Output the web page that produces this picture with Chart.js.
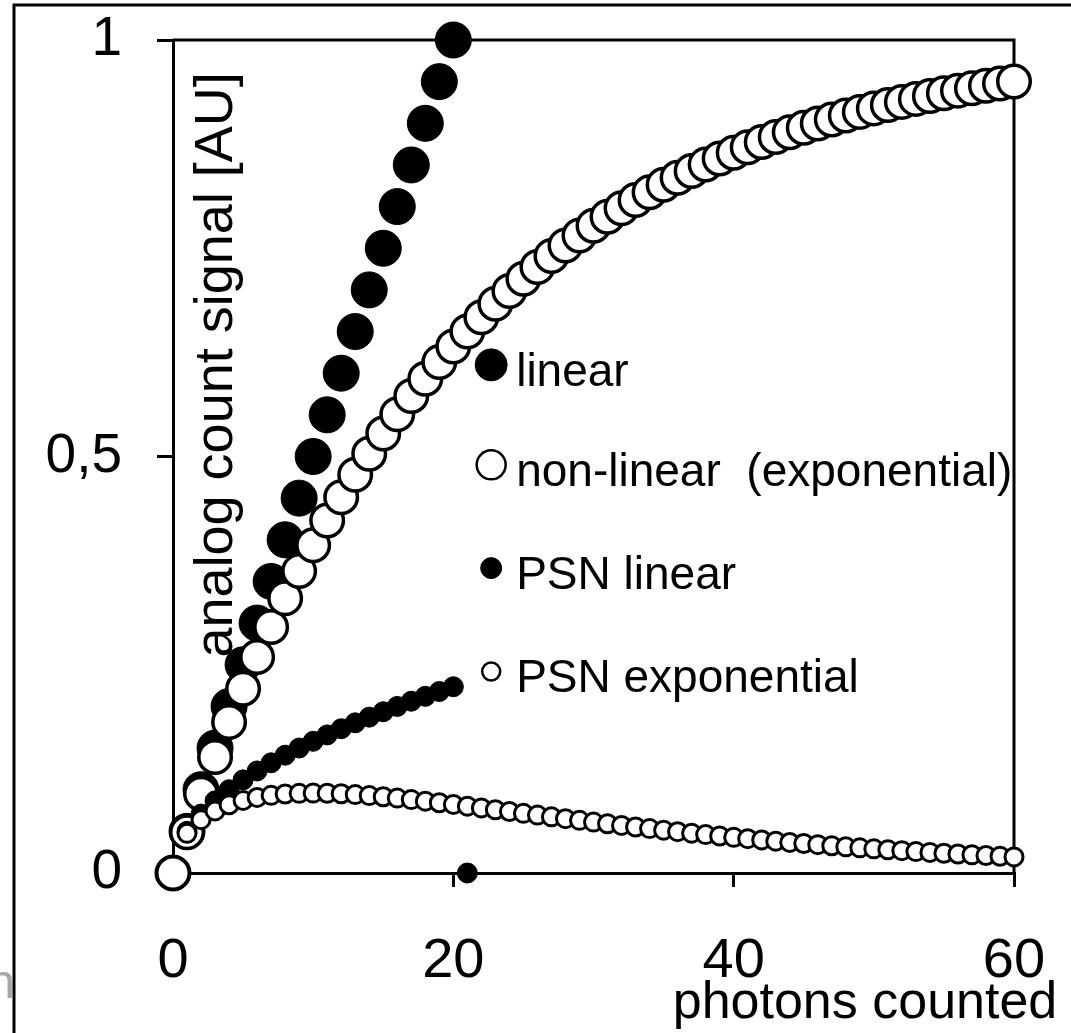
<!DOCTYPE html>
<html>
<head>
<meta charset="utf-8">
<title>analog count signal</title>
<script src="https://cdn.jsdelivr.net/npm/chart.js@4.4.1/dist/chart.umd.min.js"></script>
<style>
  html, body { margin: 0; padding: 0; background: #ffffff; }
  #wrap { width: 1071px; height: 1033px; }
</style>
</head>
<body>
<div id="wrap"><canvas id="signalChart" width="1071" height="1033"></canvas></div>
<script>
// Data
const photons = [0, 1, 2, 3, 4, 5, 6, 7, 8, 9, 10, 11, 12, 13, 14, 15, 16, 17, 18, 19, 20,
  21, 22, 23, 24, 25, 26, 27, 28, 29, 30, 31, 32, 33, 34, 35, 36, 37, 38, 39, 40,
  41, 42, 43, 44, 45, 46, 47, 48, 49, 50, 51, 52, 53, 54, 55, 56, 57, 58, 59, 60];

const linearSignal = [0, 0.05, 0.1, 0.15, 0.2, 0.25, 0.3, 0.35, 0.4, 0.45, 0.5,
  0.55, 0.6, 0.65, 0.7, 0.75, 0.8, 0.85, 0.9, 0.95, 1];

const expSignal = [0, 0.0488, 0.0952, 0.1393, 0.1813, 0.2212, 0.2592, 0.2953, 0.3297, 0.3624, 0.3935,
  0.4231, 0.4512, 0.478, 0.5034, 0.5276, 0.5507, 0.5726, 0.5934, 0.6133, 0.6321,
  0.6501, 0.6671, 0.6834, 0.6988, 0.7135, 0.7275, 0.7408, 0.7534, 0.7654, 0.7769,
  0.7878, 0.7981, 0.808, 0.8173, 0.8262, 0.8347, 0.8428, 0.8504, 0.8577, 0.8647,
  0.8713, 0.8775, 0.8835, 0.8892, 0.8946, 0.8997, 0.9046, 0.9093, 0.9137, 0.9179,
  0.9219, 0.9257, 0.9293, 0.9328, 0.9361, 0.9392, 0.9422, 0.945, 0.9477, 0.9502];

// no point at 0 photons for the PSN series
const psnLinear = [null, 0.05, 0.0707, 0.0866, 0.1, 0.1118, 0.1225, 0.1323, 0.1414, 0.15, 0.1581,
  0.1658, 0.1732, 0.1803, 0.1871, 0.1936, 0.2, 0.2062, 0.2121, 0.2179, 0.2236, 0];

const psnExp = [null, 0.0476, 0.064, 0.0745, 0.0819, 0.0871, 0.0907, 0.0932, 0.0948, 0.0956, 0.0959,
  0.0957, 0.0951, 0.0941, 0.0929, 0.0915, 0.0899, 0.0881, 0.0862, 0.0843, 0.0823,
  0.0802, 0.0781, 0.0759, 0.0738, 0.0716, 0.0695, 0.0674, 0.0652, 0.0632, 0.0611,
  0.0591, 0.0571, 0.0552, 0.0533, 0.0514, 0.0496, 0.0478, 0.0461, 0.0444, 0.0428,
  0.0412, 0.0397, 0.0382, 0.0367, 0.0354, 0.034, 0.0327, 0.0314, 0.0302, 0.029,
  0.0279, 0.0268, 0.0257, 0.0247, 0.0237, 0.0228, 0.0218, 0.021, 0.0201, 0.0193];

const xTicks = [0, 20, 40, 60];
const yTicks = [0, 0.5, 1];
const yTickLabels = ['0', '0,5', '1'];
const legendLabels = ['linear', 'non-linear  (exponential)', 'PSN linear', 'PSN exponential'];

const FONT = '"Liberation Sans", Arial, sans-serif';

function toPoints(values) {
  return values.map((v, i) => ({ x: photons[i], y: v }));
}

// legend markers, same order as legendLabels
const legendMarks = [
  { r: 16, fill: '#000', border: 1 },
  { r: 14.5, fill: '#fff', border: 2.5 },
  { r: 10.5, fill: '#000', border: 1 },
  { r: 9, fill: '#fff', border: 2.5 }
];

// frame, plot box, titles and legend
const decorations = {
  id: 'decorations',
  beforeDraw(chart) {
    const ctx = chart.ctx;
    ctx.save();
    ctx.fillStyle = '#fff';
    ctx.fillRect(0, 0, chart.width, chart.height);
    ctx.strokeStyle = '#000';
    ctx.lineWidth = 3;
    ctx.beginPath();
    ctx.moveTo(14, chart.height);
    ctx.lineTo(14, 5);
    ctx.lineTo(chart.width, 5);
    ctx.stroke();
    // cut-off grey letter at bottom left
    ctx.fillStyle = '#a6a6a6';
    ctx.font = '48px ' + FONT;
    ctx.textAlign = 'right';
    ctx.textBaseline = 'alphabetic';
    ctx.fillText('n', 15, 998);
    ctx.restore();
  },
  beforeDatasetsDraw(chart) {
    const { ctx, chartArea: a } = chart;
    ctx.save();
    ctx.strokeStyle = '#000';
    ctx.lineWidth = 3;
    ctx.beginPath();
    ctx.moveTo(a.left, a.top);
    ctx.lineTo(a.right, a.top);
    ctx.lineTo(a.right, a.bottom);
    ctx.stroke();
    ctx.restore();
  },
  afterDraw(chart) {
    const { ctx, chartArea: a } = chart;
    const xs = chart.scales.x, ys = chart.scales.y;
    ctx.save();
    ctx.fillStyle = '#000';

    // y title, inside the plot
    ctx.save();
    ctx.translate(a.left + 59, ys.getPixelForValue(0.61));
    ctx.rotate(-Math.PI / 2);
    ctx.font = '54px ' + FONT;
    ctx.textAlign = 'center';
    ctx.textBaseline = 'alphabetic';
    ctx.fillText('analog count signal [AU]', 0, 0);
    ctx.restore();

    // x title
    ctx.font = '52px ' + FONT;
    ctx.textAlign = 'center';
    ctx.textBaseline = 'alphabetic';
    ctx.fillText('photons counted', 865, 1018);

    // legend
    const mx = xs.getPixelForValue(22.7);
    const rows = [0.61, 0.49, 0.366, 0.242];
    ctx.font = '46px ' + FONT;
    ctx.textAlign = 'left';
    legendLabels.forEach((label, i) => {
      const my = ys.getPixelForValue(rows[i]);
      const m = legendMarks[i];
      ctx.beginPath();
      ctx.arc(mx, my, m.r, 0, Math.PI * 2);
      ctx.fillStyle = m.fill;
      ctx.fill();
      ctx.lineWidth = m.border;
      ctx.strokeStyle = '#000';
      ctx.stroke();
      ctx.fillStyle = '#000';
      ctx.fillText(label, mx + 25, my + 21);
    });
    ctx.restore();
  }
};

const ctx = document.getElementById('signalChart').getContext('2d');

new Chart(ctx, {
  type: 'scatter',
  data: {
    datasets: [
      {
        label: legendLabels[3],
        data: toPoints(psnExp),
        pointRadius: 9,
        pointBorderWidth: 3,
        pointBackgroundColor: '#fff',
        pointBorderColor: '#000',
        clip: false
      },
      {
        label: legendLabels[2],
        data: toPoints(psnLinear),
        pointRadius: 10,
        pointBorderWidth: 1,
        pointBackgroundColor: '#000',
        pointBorderColor: '#000',
        clip: false
      },
      {
        label: legendLabels[1],
        data: toPoints(expSignal),
        pointRadius: 16.25,
        pointBorderWidth: 3.5,
        pointBackgroundColor: '#fff',
        pointBorderColor: '#000',
        clip: false
      },
      {
        label: legendLabels[0],
        data: toPoints(linearSignal),
        pointRadius: 18,
        pointBorderWidth: 1,
        pointBackgroundColor: '#000',
        pointBorderColor: '#000',
        clip: false
      }
    ]
  },
  options: {
    responsive: false,
    animation: false,
    events: [],
    layout: {
      padding: { left: 0, top: 40, right: 57, bottom: 0 }
    },
    plugins: {
      legend: { display: false },
      tooltip: { enabled: false }
    },
    scales: {
      x: {
        type: 'linear',
        min: 0,
        max: 60,
        afterBuildTicks: (s) => { s.ticks = xTicks.map(v => ({ value: v })); },
        afterFit: (s) => { s.height = 160; s.paddingLeft = 0; s.paddingRight = 0; },
        ticks: {
          color: '#000',
          padding: 41,
          maxRotation: 0,
          font: { family: FONT, size: 56, lineHeight: 1.2 }
        },
        grid: { drawOnChartArea: false, drawTicks: true, tickLength: 14, color: '#000', lineWidth: 3 },
        border: { display: true, color: '#000', width: 3 }
      },
      y: {
        type: 'linear',
        min: 0,
        max: 1,
        afterBuildTicks: (s) => { s.ticks = yTicks.map(v => ({ value: v })); },
        afterFit: (s) => { s.width = 173; s.paddingTop = 0; s.paddingBottom = 0; },
        ticks: {
          color: '#000',
          padding: 35,
          font: { family: FONT, size: 55 },
          callback: (v) => yTickLabels[yTicks.indexOf(v)]
        },
        grid: { drawOnChartArea: false, drawTicks: true, tickLength: 16, color: '#000', lineWidth: 3 },
        border: { display: true, color: '#000', width: 3 }
      }
    }
  },
  plugins: [decorations]
});
</script>
</body>
</html>
